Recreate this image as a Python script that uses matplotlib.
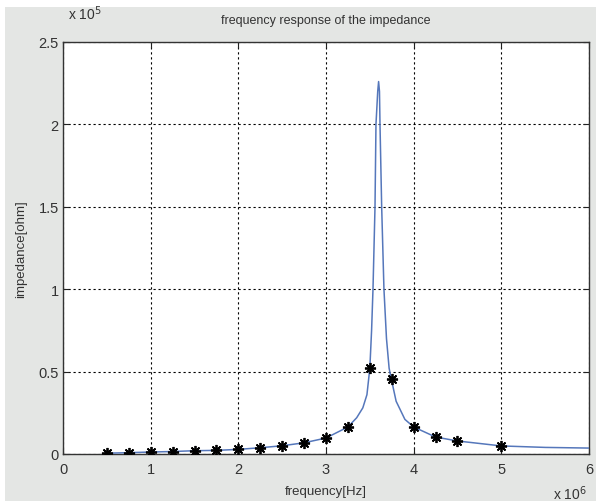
import matplotlib
matplotlib.use("Agg")
import matplotlib.pyplot as plt
from matplotlib.patches import Rectangle

# frequency in units of 1e6 Hz, impedance in units of 1e5 ohm
freq_line = [0.5, 0.75, 1.0, 1.25, 1.5, 1.75, 2.0, 2.25, 2.5, 2.75, 3.0,
             3.25, 3.35, 3.42, 3.467, 3.50, 3.52, 3.536, 3.559, 3.57, 3.59,
             3.60, 3.61, 3.616, 3.635, 3.661, 3.69, 3.72, 3.745, 3.80, 3.90,
             4.0, 4.25, 4.5, 5.0, 5.5, 6.0]
imp_line = [0.005, 0.008, 0.012, 0.015, 0.02, 0.022, 0.028, 0.038, 0.05,
            0.068, 0.097, 0.164, 0.22, 0.28, 0.36, 0.52, 0.75, 1.0, 1.5, 2.0,
            2.2, 2.26, 2.2, 2.0, 1.5, 1.0, 0.7, 0.52, 0.455, 0.32, 0.21,
            0.164, 0.103, 0.079, 0.049, 0.04, 0.036]

freq_meas = [0.5, 0.75, 1.0, 1.25, 1.5, 1.75, 2.0, 2.25, 2.5, 2.75, 3.0,
             3.25, 3.5, 3.75, 4.0, 4.25, 4.5, 5.0]
imp_meas = [0.005, 0.008, 0.012, 0.015, 0.02, 0.022, 0.028, 0.038, 0.05,
            0.068, 0.097, 0.164, 0.52, 0.455, 0.164, 0.103, 0.079, 0.049]

xticks = [0, 1, 2, 3, 4, 5, 6]
yticks = [0, 0.5, 1, 1.5, 2, 2.5]
ytick_labels = ["0", "0.5", "1", "1.5", "2", "2.5"]

plt.rcParams["font.family"] = ["Liberation Sans", "DejaVu Sans"]

bg = "#e4e6e4"
txt = "#333333"

fig = plt.figure(figsize=(5.96, 5.02), dpi=100, facecolor="white")
fig.patches.append(Rectangle((5 / 596, 0), 1, 1 - 8 / 502,
                             transform=fig.transFigure, facecolor=bg,
                             edgecolor="none", zorder=-10))
ax = fig.add_axes([63 / 596, 47 / 502, 526 / 596, 412 / 502])
ax.set_facecolor("white")

ax.plot(freq_line, imp_line, color="#5577bb", lw=1.1, zorder=3)
ax.plot(freq_meas, imp_meas, linestyle="none", marker=(8, 2, 0),
        markersize=8, color="black", markeredgewidth=1.3, zorder=4)

ax.set_xlim(0, 6)
ax.set_ylim(0, 2.5)
ax.set_xticks(xticks)
ax.set_yticks(yticks)
ax.set_yticklabels(ytick_labels)
ax.tick_params(direction="in", top=True, right=True, length=4,
               labelsize=10.5, colors="#222222", labelcolor=txt)
ax.tick_params(axis="x", pad=6)
ax.tick_params(axis="y", pad=3)
ax.grid(True, linestyle=(0, (2, 2.5)), color="black", lw=0.8)
for s in ax.spines.values():
    s.set_color("#333333")
    s.set_linewidth(1.0)

ax.set_title("frequency response of the impedance", fontsize=9,
             color=txt, pad=14)
ax.set_xlabel("frequency[Hz]", fontsize=9.5, color=txt, labelpad=6)
ax.set_ylabel("impedance[ohm]", fontsize=9.5, color=txt, labelpad=8)

fig.text(68 / 596, 1 - 20 / 502, r"x 10$^5$", fontsize=10, color=txt)
fig.text(553 / 596, 1 - 500 / 502, r"x 10$^6$", fontsize=10, color=txt)

fig.savefig("out.png", dpi=100, facecolor=fig.get_facecolor())
